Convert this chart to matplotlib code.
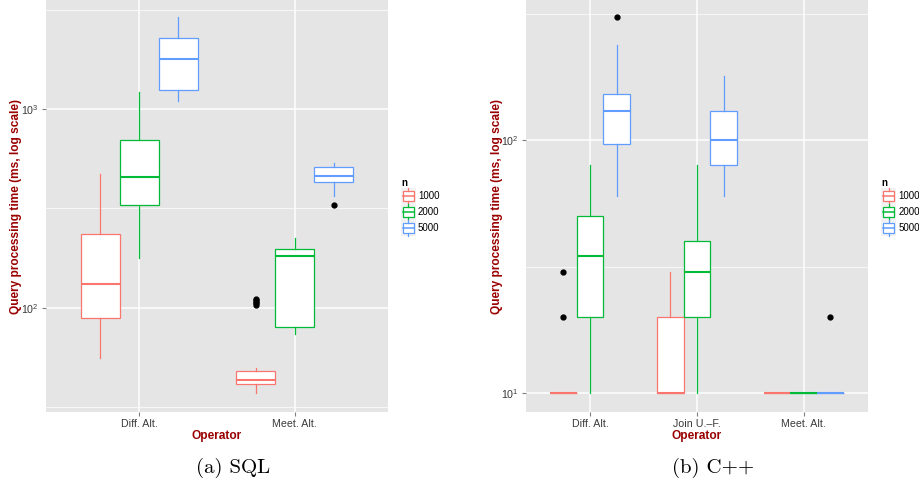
import matplotlib
matplotlib.use('Agg')
import matplotlib.pyplot as plt
from matplotlib.patches import Rectangle
from matplotlib.lines import Line2D
from matplotlib.legend_handler import HandlerBase
from matplotlib.ticker import FixedLocator, LogFormatterMathtext, NullFormatter

# ---------------- data ----------------
sizes = ["1000", "2000", "5000"]
colors = ["#F8766D", "#00BA38", "#619CFF"]

# SQL panel (rows: operator, cols: n)
sql_ops = ["Diff. Alt.", "Meet. Alt."]
sql_whislo = [[56, 177, 1097], [37, 73.5, 367]]
sql_q1 = [[88.4, 327, 1246], [41.1, 80, 430]]
sql_med = [[132, 455, 1786], [43.2, 182, 462]]
sql_q3 = [[234, 695, 2285], [48.2, 198, 508]]
sql_whishi = [[472, 1213, 2920], [49.9, 225, 537]]
sql_fliers = [[[], [], []], [[103, 105, 107, 109, 111], [], [329]]]

# C++ panel
cpp_ops = ["Diff. Alt.", "Join U.\u2013F.", "Meet. Alt."]
cpp_whislo = [[10, 10, 60], [10, 10, 60], [10, 10, 10]]
cpp_q1 = [[10, 20, 97], [10, 20, 80], [10, 10, 10]]
cpp_med = [[10, 35, 130], [10, 30, 100], [10, 10, 10]]
cpp_q3 = [[10, 50, 152], [20, 40, 130], [10, 10, 10]]
cpp_whishi = [[10, 80, 238], [30, 80, 180], [10, 10, 10]]
cpp_fliers = [[[20, 30], [], [308]], [[], [], []], [[], [], [20]]]

ylabel_text = "Query processing time (ms, log scale)"
xlabel_text = "Operator"
captions = ["(a) SQL", "(b) C++"]

# ---------------- style ----------------
plt.rcParams['font.family'] = ['Liberation Sans', 'DejaVu Sans']
plt.rcParams['mathtext.fontset'] = 'custom'
plt.rcParams['mathtext.rm'] = 'Liberation Sans'
plt.rcParams['mathtext.it'] = 'Liberation Sans:italic'
plt.rcParams['mathtext.bf'] = 'Liberation Sans:bold'

DARKRED = '#990000'


class BoxHandler(HandlerBase):
    def create_artists(self, legend, orig_handle, xdescent, ydescent,
                       width, height, fontsize, trans):
        c = orig_handle.get_edgecolor()
        x0, y0 = -xdescent, -ydescent
        bg = Rectangle((x0, y0), width, height, fc='#F2F2F2', ec='none',
                       transform=trans)
        bx = Rectangle((x0 + 0.12 * width, y0 + 0.2 * height), 0.76 * width,
                       0.6 * height, fc='white', ec=c, lw=0.9, transform=trans)
        cx = x0 + width / 2
        med = Line2D([x0 + 0.12 * width, x0 + 0.88 * width],
                     [y0 + height / 2] * 2, color=c, lw=1.1, transform=trans)
        w1 = Line2D([cx, cx], [y0, y0 + 0.2 * height], color=c, lw=0.9,
                    transform=trans)
        w2 = Line2D([cx, cx], [y0 + 0.8 * height, y0 + height], color=c,
                    lw=0.9, transform=trans)
        return [bg, bx, med, w1, w2]


def draw(ax, ops, whislo, q1, med, q3, whishi, fliers, ylim, major, minor,
         label_x):
    ax.set_facecolor('#E5E5E5')
    for i in range(len(ops)):
        for j in range(len(sizes)):
            st = [dict(whislo=whislo[i][j], q1=q1[i][j], med=med[i][j],
                       q3=q3[i][j], whishi=whishi[i][j], fliers=fliers[i][j])]
            ax.bxp(st, positions=[i + 1 + (j - 1) * 0.25], widths=0.25,
                   patch_artist=True, showcaps=False, manage_ticks=False,
                   boxprops=dict(facecolor='white', edgecolor=colors[j], lw=0.9),
                   whiskerprops=dict(color=colors[j], lw=0.9),
                   medianprops=dict(color=colors[j], lw=1.5),
                   flierprops=dict(marker='o', markerfacecolor='black',
                                   markeredgecolor='black', markersize=3.5,
                                   linestyle='none'))
    ax.set_yscale('log')
    ax.set_ylim(*ylim)
    ax.set_xlim(0.4, len(ops) + 0.6)
    ax.set_xticks(range(1, len(ops) + 1))
    ax.set_xticklabels(ops)
    ax.yaxis.set_major_locator(FixedLocator(major))
    ax.yaxis.set_major_formatter(LogFormatterMathtext())
    ax.yaxis.set_minor_locator(FixedLocator(minor))
    ax.yaxis.set_minor_formatter(NullFormatter())
    ax.set_axisbelow(True)
    ax.grid(which='major', color='white', lw=1.1)
    ax.grid(which='minor', axis='y', color='white', lw=0.5)
    for s in ax.spines.values():
        s.set_visible(False)
    ax.tick_params(which='major', length=3, color='#7F7F7F',
                   labelcolor='#3A3A3A', labelsize=7.7, pad=2)
    ax.tick_params(which='minor', length=0)
    ax.set_xlabel(xlabel_text, color=DARKRED, fontweight='bold',
                  fontsize=8.6, labelpad=1)
    ax.set_ylabel(ylabel_text, color=DARKRED, fontweight='bold', fontsize=8.6)
    ax.yaxis.label.set_va('center')
    ax.yaxis.set_label_coords(label_x, 0.5)


fig = plt.figure(figsize=(9.2, 4.88), dpi=100)
ax1 = fig.add_axes([46 / 920, 1 - 412 / 488, 342 / 920, 412 / 488])
ax2 = fig.add_axes([526 / 920, 1 - 412 / 488, 341.7 / 920, 412 / 488])

draw(ax1, sql_ops, sql_whislo, sql_q1, sql_med, sql_q3, sql_whishi,
     sql_fliers, (29.85, 3540), [100, 1000], [10 ** 1.5, 10 ** 2.5, 10 ** 3.5],
     -0.0877)
draw(ax2, cpp_ops, cpp_whislo, cpp_q1, cpp_med, cpp_q3, cpp_whishi,
     cpp_fliers, (8.41, 359), [10, 100], [10 ** 1.5, 10 ** 2.5], -0.0849)

handles = [Rectangle((0, 0), 1, 1, ec=c, fc='white') for c in colors]
for xa in (401 / 920, 881.5 / 920):
    fig.legend(handles, sizes, title='n', loc='upper left',
               bbox_to_anchor=(xa, 1 - 178 / 488),
               handler_map={Rectangle: BoxHandler()}, frameon=False,
               fontsize=7, title_fontproperties={'weight': 'bold', 'size': 7},
               handlelength=1.5, handleheight=2.15, labelspacing=0.0,
               handletextpad=0.25, borderpad=0, borderaxespad=0,
               alignment='left')

fig.text(233 / 920, 1 - 468 / 488, captions[0], family='cmr10', fontsize=15,
         ha='center', va='center')
fig.text(713 / 920, 1 - 468 / 488, captions[1], family='cmr10', fontsize=15,
         ha='center', va='center')

fig.savefig('out.png', dpi=100)
